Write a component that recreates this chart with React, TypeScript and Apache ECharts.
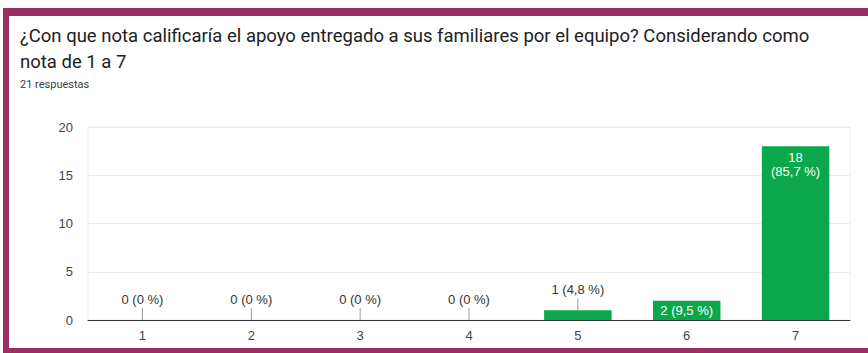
import React, { useEffect, useRef } from "react";
import * as echarts from "echarts";

const categories = ["1", "2", "3", "4", "5", "6", "7"];
const counts = [0, 0, 0, 0, 1, 2, 18];
const percents = ["0", "0", "0", "0", "4,8", "9,5", "85,7"];
const yTicks = { min: 0, max: 20, interval: 5 };
const titleText =
  "¿Con que nota calificaría el apoyo entregado a sus familiares por el equipo? Considerando como\nnota de 1 a 7";
const subText = "21 respuestas";

const PURPLE = "#9b2f62";
const GREEN = "#0aa84a";
const FONT = "Liberation Sans, Arial";

export default function App() {
  const ref = useRef<HTMLDivElement>(null);
  useEffect(() => {
    if (!ref.current) return;
    const chart = echarts.init(ref.current, null, { renderer: "svg" });
    const labelFor = (i: number) => `${counts[i]} (${percents[i]} %)`;
    const barData = counts.map((v, i) => {
      if (v < 2) return { value: v, label: { show: false } };
      if (v < 5)
        return {
          value: v,
          label: { show: true, position: "inside", formatter: labelFor(i) },
        };
      return {
        value: v,
        label: {
          show: true,
          position: "insideTop",
          distance: 4,
          formatter: `${v}\n(${percents[i]} %)`,
        },
      };
    });
    chart.setOption({
      animation: false,
      backgroundColor: "#ffffff",
      title: {
        text: titleText,
        subtext: subText,
        left: 20,
        top: 23,
        padding: 0,
        itemGap: 4,
        textStyle: {
          fontFamily: "Roboto",
          fontSize: 18.5,
          fontWeight: "normal",
          color: "#202124",
          lineHeight: 26,
        },
        subtextStyle: {
          fontFamily: "Roboto",
          fontSize: 11,
          color: "#3c4043",
        },
      },
      graphic: [
        { type: "rect", shape: { x: 3, y: 8, width: 865, height: 8 }, style: { fill: PURPLE } },
        { type: "rect", shape: { x: 3, y: 8, width: 6, height: 345 }, style: { fill: PURPLE } },
        { type: "rect", shape: { x: 3, y: 348, width: 865, height: 5 }, style: { fill: PURPLE } },
      ],
      grid: {
        left: 88,
        right: 18,
        top: 127,
        bottom: 33,
        show: true,
        borderColor: "#f0f0f0",
        borderWidth: 1,
      },
      xAxis: {
        type: "category",
        data: categories,
        axisLine: { lineStyle: { color: "#333333", width: 1 } },
        axisTick: { show: false },
        axisLabel: {
          color: "#444444",
          fontSize: 13,
          fontFamily: FONT,
          margin: 9,
        },
      },
      yAxis: {
        type: "value",
        min: yTicks.min,
        max: yTicks.max,
        interval: yTicks.interval,
        axisLine: { show: false },
        axisTick: { show: false },
        axisLabel: {
          color: "#444444",
          fontSize: 13,
          fontFamily: FONT,
          margin: 15,
        },
        splitLine: { lineStyle: { color: "#ebebeb" } },
      },
      series: [
        {
          type: "bar",
          data: barData,
          barWidth: "62%",
          itemStyle: { color: GREEN },
          label: {
            color: "#ffffff",
            fontSize: 13,
            fontFamily: FONT,
            lineHeight: 14,
          },
        },
        {
          type: "custom",
          data: counts.map((v, i) => [i, v]),
          z: 5,
          renderItem: (params: any, api: any) => {
            const i = params.dataIndex;
            const v = counts[i];
            if (v >= 2) return { type: "group", children: [] };
            const p = api.coord([i, v]);
            return {
              type: "group",
              children: [
                {
                  type: "line",
                  shape: { x1: p[0], y1: p[1], x2: p[0], y2: p[1] - 12 },
                  style: { stroke: "#9a9a9a", lineWidth: 1 },
                },
                {
                  type: "text",
                  style: {
                    text: labelFor(i),
                    x: p[0],
                    y: p[1] - 21,
                    align: "center",
                    verticalAlign: "middle",
                    fill: "#333333",
                    fontSize: 13,
                    fontFamily: FONT,
                  },
                },
              ],
            };
          },
        },
      ],
    });
    return () => chart.dispose();
  }, []);
  return (
    <div
      ref={ref}
      style={{ position: "fixed", left: 0, top: 0, width: 868, height: 353 }}
    />
  );
}
